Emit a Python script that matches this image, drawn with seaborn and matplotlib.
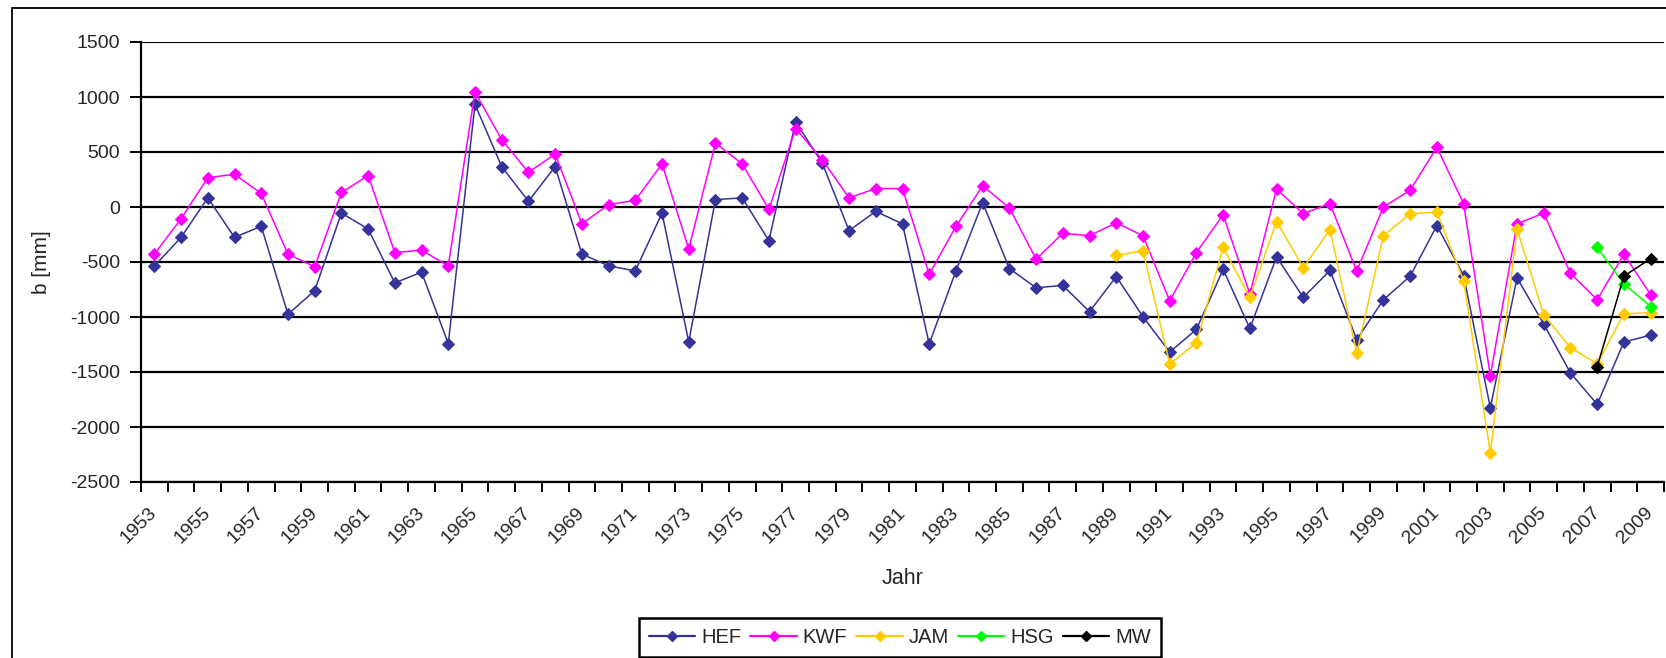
import matplotlib
matplotlib.use("Agg")
import matplotlib.pyplot as plt
import matplotlib.transforms as mtransforms
from matplotlib.lines import Line2D
from matplotlib.patches import Rectangle
import numpy as np
import pandas as pd
import seaborn as sns

# Annual mass balance b [mm w.e.] of glaciers
years_hef = list(range(1953, 2010))
hef = [-537, -276, 83, -276, -175, -975, -761, -55, -199, -690,
       -592, -1242, 933, 367, 52, 367, -428, -535, -581, -55,
       -1226, 67, 83, -306, 775, 398, -214, -40, -153, -1245,
       -581, 40, -560, -734, -713, -951, -632, -997, -1319, -1113,
       -567, -1104, -454, -822, -577, -1205, -843, -629, -169, -623,
       -1825, -644, -1064, -1509, -1794, -1227, -1165]
kwf = [-429, -107, 267, 297, 123, -429, -543, 132, 285, -414,
       -393, -535, 1045, 612, 315, 480, -153, 21, 61, 392,
       -382, 581, 392, -21, 713, 428, 83, 168, 168, -612,
       -177, 193, -9, -474, -239, -261, -144, -261, -853, -414,
       -71, -790, 163, -61, 31, -583, 0, 153, 542, 31,
       -1534, -153, -55, -604, -843, -429, -797]
years_jam = list(range(1989, 2010))
jam = [-439, -399, -1426, -1236, -368, -822, -132, -552, -205, -1328,
       -261, -61, -46, -669, -2233, -199, -981, -1279, -1426, -972, -960]
years_hsg = [2007, 2008, 2009]
hsg = [-368, -699, -905]
years_mw = [2007, 2008, 2009]
mw = [-1451, -629, -469]

series_names = ["HEF", "KWF", "JAM", "HSG", "MW"]
series_colors = ["#333399", "#FF00FF", "#FFCC00", "#00FF00", "#000000"]
label_years = list(range(1953, 2010, 2))

frames = [
    pd.DataFrame({"Jahr": years_hef, "b": hef, "Gletscher": "HEF"}),
    pd.DataFrame({"Jahr": years_hef, "b": kwf, "Gletscher": "KWF"}),
    pd.DataFrame({"Jahr": years_jam, "b": jam, "Gletscher": "JAM"}),
    pd.DataFrame({"Jahr": years_hsg, "b": hsg, "Gletscher": "HSG"}),
    pd.DataFrame({"Jahr": years_mw, "b": mw, "Gletscher": "MW"}),
]

sns.set_style("white")
plt.rcParams["font.family"] = ["Liberation Sans", "DejaVu Sans"]
plt.rcParams["axes.unicode_minus"] = False

W, H = 1666, 658
fig = plt.figure(figsize=(W / 100, H / 100), dpi=100)
fig.patch.set_facecolor("white")
left, right, top, bottom = 141, 1664, 42, 482
ax = fig.add_axes([left / W, 1 - bottom / H, (right - left) / W, (bottom - top) / H])

# outer chart frame
fig.patches.append(Rectangle((12 / W, -0.2), 1.5, 1 - 8 / H + 0.2,
                             transform=fig.transFigure, fill=False,
                             edgecolor="black", linewidth=1.3, zorder=0))

handles = []
for df, name, col in zip(frames, series_names, series_colors):
    sns.lineplot(data=df, x="Jahr", y="b", ax=ax, color=col, linewidth=1.1,
                 marker="D", markersize=6.5, markeredgecolor=col,
                 markerfacecolor=col, legend=False, zorder=3)
    handles.append(Line2D([], [], color=col, linewidth=1.6, marker="D",
                          markersize=5.5, markeredgecolor=col, markerfacecolor=col,
                          label=name))

ax.set_xlim(1952.5, 2009.5)
ax.set_ylim(-2500, 1500)
ax.set_yticks(np.arange(-2500, 1501, 500))
ax.yaxis.grid(True, color="black", linewidth=1.6)
ax.xaxis.grid(False)
ax.set_axisbelow(True)

for s in ["top", "right"]:
    ax.spines[s].set_visible(False)
for s in ["left", "bottom"]:
    ax.spines[s].set_color("black")
    ax.spines[s].set_linewidth(1.6)

# tick marks between years, labels on every second year
ax.set_xticks(np.arange(1952.5, 2010, 1.0), minor=True)
ax.set_xticks(label_years)
ax.set_xticklabels([str(y) for y in label_years], rotation=45, ha="right",
                   va="center", rotation_mode="anchor", fontsize=14)
shift = mtransforms.ScaledTranslation(-3.5 / 100, 0, fig.dpi_scale_trans)
for lbl in ax.get_xticklabels():
    lbl.set_transform(lbl.get_transform() + shift)
ax.tick_params(axis="x", which="major", length=0, pad=20)
ax.tick_params(axis="x", which="minor", length=7, width=1.4, color="black",
               direction="out", bottom=True)
ax.tick_params(axis="y", which="major", length=8, width=1.4, color="black",
               direction="out", left=True, labelsize=14, pad=7)

ax.set_xlabel("Jahr", fontsize=15.5)
ax.set_ylabel("b [mm]", fontsize=15)
ax.xaxis.set_label_coords(0.5, (bottom - 578) / (bottom - top))
ax.xaxis.label.set_va("center")
ax.yaxis.set_label_coords((42 - left) / (right - left), 0.5)
ax.yaxis.label.set_va("center")

leg = fig.legend(handles=handles, loc="center", ncol=5,
                 bbox_to_anchor=(900 / W, 1 - 637.5 / H), fontsize=14.5,
                 frameon=True, fancybox=False, framealpha=1,
                 handlelength=2.3, handletextpad=0.3, columnspacing=0.45,
                 borderpad=0.5, borderaxespad=0)
leg.get_frame().set_edgecolor("black")
leg.get_frame().set_linewidth(1.8)

fig.savefig("out.png", dpi=100, facecolor="white")
